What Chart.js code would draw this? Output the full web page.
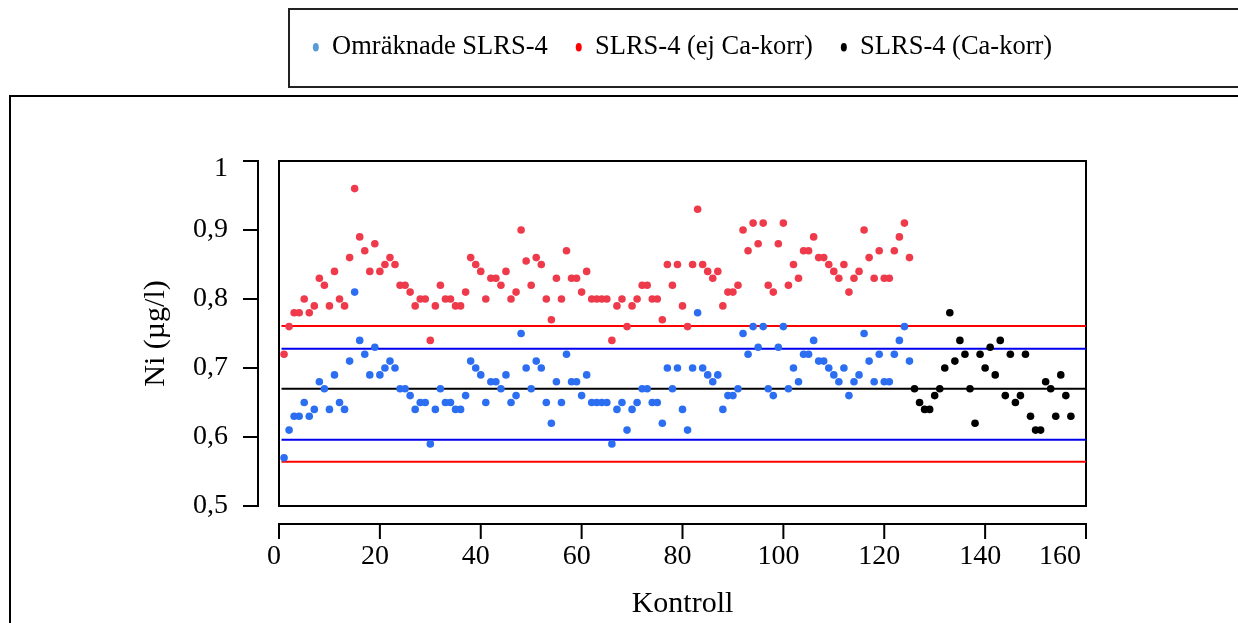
<!DOCTYPE html>
<html>
<head>
<meta charset="utf-8">
<script src="https://cdn.jsdelivr.net/npm/chart.js@4.4.0/dist/chart.umd.min.js"></script>
<style>
  html, body { margin: 0; padding: 0; background: #fff; width: 1238px; height: 623px; overflow: hidden; }
  #legendFrame { position: absolute; left: 288px; top: 8px; width: 1000px; height: 76px; border: 2px solid #222; }
  #outerFrame { position: absolute; left: 9px; top: 95px; width: 1300px; height: 700px; border: 2px solid #000; }
  #wrap { position: absolute; left: 0; top: 0; width: 1238px; height: 623px; }
</style>
</head>
<body>
<div id="legendFrame"></div>
<div id="outerFrame"></div>
<div id="wrap"><canvas id="c" width="1238" height="623"></canvas></div>
<script>
// ---- data ----
const seriesLabels = ['Omräknade SLRS-4', 'SLRS-4 (ej Ca-korr)', 'SLRS-4 (Ca-korr)'];

// Kontroll numbers 1..125
const firstKontrollOld = 1;
const omraknadeValues = [
  0.57,0.61,0.63,0.63,0.65,0.63,0.64,0.68,0.67,0.64,
  0.69,0.65,0.64,0.71,0.81,0.74,0.72,0.69,0.73,0.69,
  0.70,0.71,0.70,0.67,0.67,0.66,0.64,0.65,0.65,0.59,
  0.64,0.67,0.65,0.65,0.64,0.64,0.66,0.71,0.70,0.69,
  0.65,0.68,0.68,0.67,0.69,0.65,0.66,0.75,0.70,0.67,
  0.71,0.70,0.65,0.62,0.68,0.65,0.72,0.68,0.68,0.66,
  0.69,0.65,0.65,0.65,0.65,0.59,0.64,0.65,0.61,0.64,
  0.65,0.67,0.67,0.65,0.65,0.62,0.70,0.67,0.70,0.64,
  0.61,0.70,0.78,0.70,0.69,0.68,0.69,0.64,0.66,0.66,
  0.67,0.75,0.72,0.76,0.73,0.76,0.67,0.66,0.73,0.76,
  0.67,0.70,0.68,0.72,0.72,0.74,0.71,0.71,0.70,0.69,
  0.68,0.70,0.66,0.68,0.69,0.75,0.71,0.68,0.72,0.68,
  0.68,0.72,0.74,0.76,0.71
];
const ejCaKorrValues = [
  0.72,0.76,0.78,0.78,0.80,0.78,0.79,0.83,0.82,0.79,
  0.84,0.80,0.79,0.86,0.96,0.89,0.87,0.84,0.88,0.84,
  0.85,0.86,0.85,0.82,0.82,0.81,0.79,0.80,0.80,0.74,
  0.79,0.82,0.80,0.80,0.79,0.79,0.81,0.86,0.85,0.84,
  0.80,0.83,0.83,0.82,0.84,0.80,0.81,0.90,0.855,0.82,
  0.86,0.85,0.80,0.77,0.83,0.80,0.87,0.83,0.83,0.81,
  0.84,0.80,0.80,0.80,0.80,0.74,0.79,0.80,0.76,0.79,
  0.80,0.82,0.82,0.80,0.80,0.77,0.85,0.82,0.85,0.79,
  0.76,0.85,0.93,0.85,0.84,0.83,0.84,0.79,0.81,0.81,
  0.82,0.90,0.87,0.91,0.88,0.91,0.82,0.81,0.88,0.91,
  0.82,0.85,0.83,0.87,0.87,0.89,0.86,0.86,0.85,0.84,
  0.83,0.85,0.81,0.83,0.84,0.90,0.86,0.83,0.87,0.83,
  0.83,0.87,0.89,0.91,0.86
];
// Kontroll numbers 126..157
const firstKontrollNew = 126;
const caKorrValues = [
  0.67,0.65,0.64,0.64,0.66,0.67,0.70,0.78,0.71,0.74,
  0.72,0.67,0.62,0.72,0.70,0.73,0.69,0.74,0.66,0.72,
  0.65,0.66,0.72,0.63,0.61,0.61,0.68,0.67,0.63,0.69,
  0.66,0.63
];
// control limits (horizontal lines)
const limitValues = [0.761, 0.728, 0.67, 0.596, 0.564];
const limitKinds  = ['red', 'blue', 'black', 'blue', 'red'];
const limitRange  = [0.5, 160];

const xTickValues = [0, 20, 40, 60, 80, 100, 120, 140, 160];
const xTickLabels = ['0', '20', '40', '60', '80', '100', '120', '140', '160'];
const yTickValues = [0.5, 0.6, 0.7, 0.8, 0.9, 1];
const yTickLabels = ['0,5', '0,6', '0,7', '0,8', '0,9', '1'];

// ---- styling ----
const FONT = 'Liberation Serif';
const pointColors  = ['#2c6ef2', '#ee3a4b', '#000000'];
const legendColors = ['#5b9bd5', '#ff0000', '#000000'];
const lineColors   = { red: '#ff0000', blue: '#0000ee', black: '#000000' };

const toPoints = (vals, start) => vals.map((v, i) => ({ x: start + i, y: v }));

const datasets = [
  { label: seriesLabels[0], data: toPoints(omraknadeValues, firstKontrollOld) },
  { label: seriesLabels[1], data: toPoints(ejCaKorrValues, firstKontrollOld) },
  { label: seriesLabels[2], data: toPoints(caKorrValues, firstKontrollNew) }
].map((d, i) => Object.assign(d, {
  backgroundColor: pointColors[i], borderWidth: 0, pointRadius: 3.8, pointHoverRadius: 3.8
}));

limitValues.forEach((v, i) => {
  datasets.push({
    label: 'limit' + i,
    data: limitRange.map(x => ({ x, y: v })),
    showLine: true, borderColor: lineColors[limitKinds[i]], borderWidth: 2,
    pointRadius: 0, fill: false
  });
});

const rAxes = {
  id: 'rAxes',
  beforeLayout(chart) {
    const lg = chart.legend;
    if (lg && !lg._gapPatched) {
      const orig = Object.getPrototypeOf(lg).fit;
      lg.fit = function () { orig.call(this); this.height = 155; };
      lg._gapPatched = true;
    }
  },
  beforeDatasetsDraw(chart) {
    const { ctx, chartArea: a, scales: { x, y } } = chart;
    ctx.save();
    ctx.strokeStyle = '#000';
    ctx.lineWidth = 2;
    ctx.lineCap = 'square';
    ctx.strokeRect(a.left, a.top, a.right - a.left, a.bottom - a.top);
    const ax = a.left - 21;
    ctx.beginPath();
    ctx.moveTo(ax, y.getPixelForValue(y.min));
    ctx.lineTo(ax, y.getPixelForValue(y.max));
    y.ticks.forEach(t => { const p = y.getPixelForValue(t.value); ctx.moveTo(ax, p); ctx.lineTo(ax - 14, p); });
    ctx.stroke();
    const ay = a.bottom + 18;
    ctx.beginPath();
    ctx.moveTo(x.getPixelForValue(x.min), ay);
    ctx.lineTo(x.getPixelForValue(x.max), ay);
    x.ticks.forEach(t => { const p = x.getPixelForValue(t.value); ctx.moveTo(p, ay); ctx.lineTo(p, ay + 14); });
    ctx.stroke();
    ctx.restore();
  }
};

const last = xTickLabels.length - 1;
const topY = yTickLabels.length - 1;

new Chart(document.getElementById('c'), {
  type: 'scatter',
  data: { datasets },
  plugins: [rAxes],
  options: {
    responsive: false,
    animation: false,
    devicePixelRatio: 1,
    layout: { padding: { left: 138, right: 152, top: 6, bottom: 0 } },
    plugins: {
      tooltip: { enabled: false },
      legend: {
        position: 'top',
        fullSize: false,
        align: 'center',
        labels: {
          usePointStyle: true,
          pointStyle: 'circle',
          pointStyleWidth: 6,
          boxHeight: 6,
          padding: 28,
          color: '#000',
          font: { family: FONT, size: 26.5 },
          generateLabels: () => seriesLabels.map((t, i) => ({
            text: t, fillStyle: legendColors[i], strokeStyle: legendColors[i],
            lineWidth: 0, pointStyle: 'circle', hidden: false, datasetIndex: i, fontColor: '#000'
          }))
        }
      }
    },
    scales: {
      x: {
        type: 'linear', min: 0, max: 160,
        afterBuildTicks: s => { s.ticks = xTickValues.map(v => ({ value: v })); },
        afterFit: s => { s.height = 117; },
        grid: { display: false, drawTicks: false },
        border: { display: false },
        ticks: {
          padding: 34, labelOffset: -5, maxRotation: 0, autoSkip: false, color: '#000',
          font: { family: FONT, size: 28 },
          // the last label sits pulled in from the right edge, as in the reference
          callback: (v, i) => i === last ? xTickLabels[i] + '      ' : xTickLabels[i]
        },
        title: { display: true, text: 'Kontroll', color: '#000', font: { family: FONT, size: 30 }, padding: { top: 0, bottom: 1 } }
      },
      y: {
        type: 'linear', min: 0.5, max: 1,
        afterBuildTicks: s => { s.ticks = yTickValues.map(v => ({ value: v })); },
        afterFit: s => { s.width = 141; },
        grid: { display: false, drawTicks: false },
        border: { display: false },
        ticks: {
          padding: 51, color: '#000',
          font: (c) => (c.index === topY
            ? { family: FONT, size: 28, lineHeight: '16px' }
            : { family: FONT, size: 28 }),
          // top label hangs just below its tick, as in the reference
          callback: (v, i) => i === topY ? ['', yTickLabels[i]] : yTickLabels[i]
        },
        title: { display: true, text: 'Ni (µg/l)', color: '#000', font: { family: FONT, size: 30 }, padding: { top: 0, bottom: 0 } }
      }
    }
  }
});
</script>
</body>
</html>
